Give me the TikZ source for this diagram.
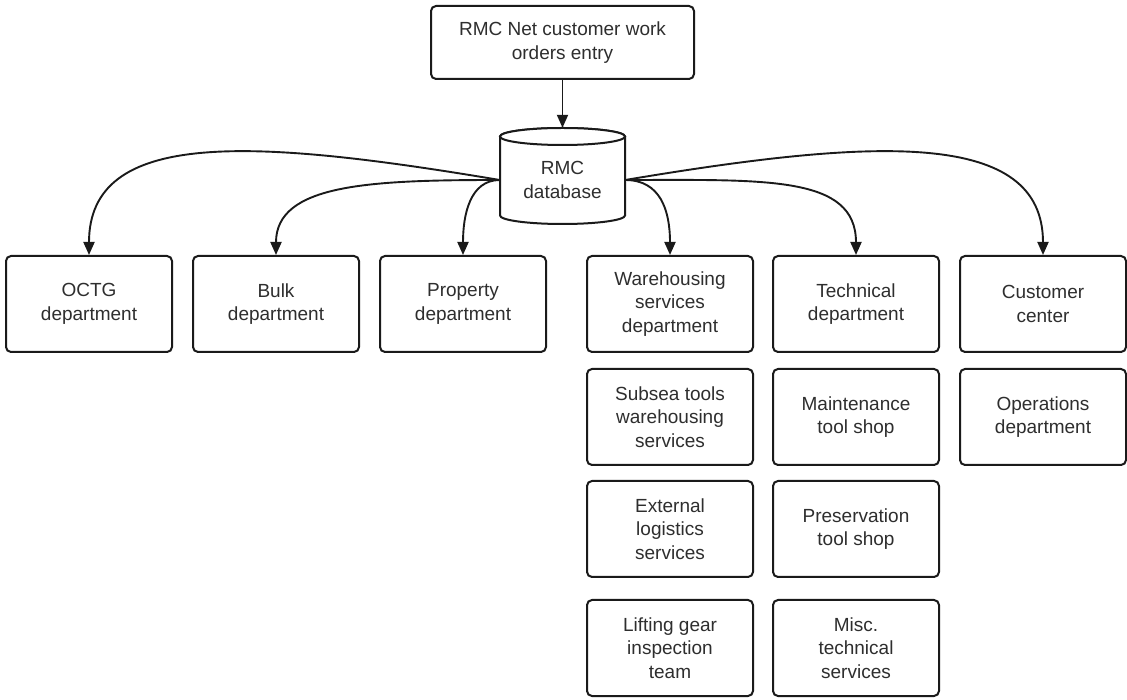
\documentclass[tikz,border=0pt]{standalone}
\usepackage{fontspec}
\setmainfont{Liberation Sans}
\usetikzlibrary{arrows.meta}
\definecolor{linec}{HTML}{1A1A1A}
\definecolor{textc}{HTML}{2E2E2E}
\begin{document}
\begin{tikzpicture}[x=1pt,y=1pt,
  box/.style={draw=linec, line width=2pt, rounded corners=5pt, fill=white,
    minimum width=166pt, minimum height=96pt, align=center, text=textc,
    font=\fontsize{19}{23.5}\selectfont, inner sep=0pt},
  cyl/.style={draw=linec, line width=2pt, fill=white},
  conn/.style={draw=linec, line width=1.9pt, -{Triangle[length=13pt,width=11pt]}}]
\useasboundingbox (0,0) rectangle (1127,699);

% top box
\node[box, minimum width=263pt, minimum height=73pt] (top) at (562.5,656.5) {RMC Net customer work\\orders entry};

% database cylinder
\draw[cyl] (500,562.5) -- (500,483.5)
  arc[start angle=180, end angle=360, x radius=62.5pt, y radius=8.5pt]
  -- (625,562.5)
  arc[start angle=0, end angle=180, x radius=62.5pt, y radius=8.5pt] -- cycle;
\draw[cyl] (562.5,562.5) ellipse [x radius=62.5pt, y radius=8.5pt];
\node[minimum width=125pt, minimum height=104pt, inner sep=0pt, align=center, text=textc,
  font=\fontsize{19}{23.5}\selectfont] (db) at (562.5,519) {RMC\\database};

% row 1
\node[box] (octg) at (89,395) {OCTG\\department};
\node[box] (bulk) at (276,395) {Bulk\\department};
\node[box] (prop) at (463,395) {Property\\department};
\node[box] (wh)   at (670,395) {Warehousing\\services\\department};
\node[box] (tech) at (856,395) {Technical\\department};
\node[box] (cust) at (1043,395) {Customer\\center};

% row 2
\node[box] (subsea) at (670,282) {Subsea tools\\warehousing\\services};
\node[box] (maint)  at (856,282) {Maintenance\\tool shop};
\node[box] (ops)    at (1043,282) {Operations\\department};

% row 3
\node[box] (ext)   at (670,170) {External\\logistics\\services};
\node[box] (pres)  at (856,170) {Preservation\\tool shop};

% row 4
\node[box] (lift)  at (670,51) {Lifting gear\\inspection\\team};
\node[box] (misc)  at (856,51) {Misc.\\technical\\services};

% connectors
\draw[conn] (top.south) -- (db.north);
\draw[conn] (db.west) .. controls +(-250,42) and +(0,126) .. (octg.north);
\draw[conn] (db.west) .. controls +(-130,0) and +(0,71) .. (bulk.north);
\draw[conn] (db.west) .. controls +(-30,0) and +(0,40) .. (prop.north);
\draw[conn] (db.east) .. controls +(35,0) and +(0,45) .. (wh.north);
\draw[conn] (db.east) .. controls +(140,0) and +(0,80) .. (tech.north);
\draw[conn] (db.east) .. controls +(250,42) and +(0,126) .. (cust.north);
\end{tikzpicture}
\end{document}
